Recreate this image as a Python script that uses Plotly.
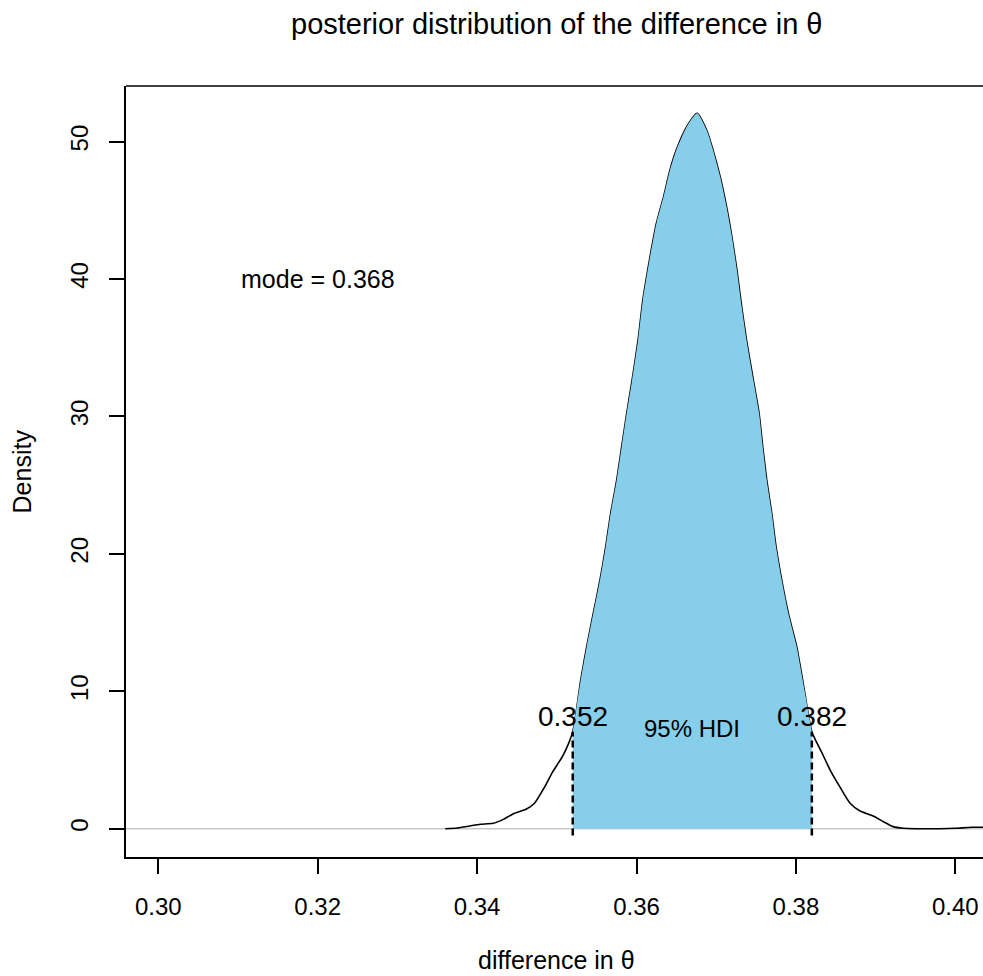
import plotly.graph_objects as go

# Posterior density of the difference in theta (read from the density estimate)
theta_diff = [
    0.3360, 0.3375, 0.3391, 0.3404, 0.3420, 0.3433, 0.3445, 0.3462, 0.3472,
    0.3485, 0.3495, 0.3508, 0.3520, 0.3530, 0.35375, 0.35458, 0.35542, 0.35614,
    0.35676, 0.35752, 0.35814, 0.35877, 0.35945, 0.3602, 0.3608, 0.3617, 0.3625,
    0.3634, 0.3642, 0.3650, 0.3663, 0.3676, 0.3688, 0.3696, 0.3705, 0.3713,
    0.3719, 0.3726, 0.3732, 0.3738, 0.37466, 0.37538, 0.37584, 0.37634, 0.37697,
    0.37751, 0.37822, 0.37905, 0.38010, 0.38085, 0.3820,
    0.3832, 0.3843, 0.3855, 0.3868, 0.3880, 0.3897, 0.3910, 0.3922, 0.3935,
    0.3950, 0.3980, 0.4000, 0.4020, 0.4035,
]
density = [
    0.00, 0.05, 0.20, 0.32, 0.39, 0.68, 1.07, 1.43, 1.85,
    3.06, 4.15, 5.36, 7.06, 10.82, 13.25, 15.68, 18.10, 20.52,
    22.95, 25.38, 27.80, 30.23, 32.66, 35.57, 38.48, 41.63, 44.06,
    46.00, 47.94, 49.40, 51.09, 52.07, 50.85, 49.40, 47.45, 45.27,
    43.33, 40.66, 37.99, 35.57, 32.66, 30.23, 27.80, 25.38, 22.95,
    20.52, 18.10, 15.68, 13.25, 10.82, 7.06,
    5.60, 4.27, 3.06, 1.85, 1.31, 0.92, 0.51, 0.15, 0.03,
    0.00, 0.00, 0.03, 0.10, 0.10,
]

# 95% highest density interval and the density height at its ends
hdi_low = 0.352
hdi_high = 0.382
hdi_density = 7.06
mode_value = 0.368

x_ticks = [0.30, 0.32, 0.34, 0.36, 0.38, 0.40]
y_ticks = [0, 10, 20, 30, 40, 50]

FONT = "Liberation Sans, Arial, Helvetica, sans-serif"

fig = go.Figure()

# density curve
fig.add_trace(go.Scatter(
    x=theta_diff, y=density, mode="lines",
    line=dict(color="black", width=1.6, shape="spline", smoothing=0.6),
    hoverinfo="skip", showlegend=False,
))

# shaded HDI region
in_hdi = [hdi_low - 1e-4 <= x <= hdi_high + 1e-4 for x in theta_diff]
hdi_x = [x for x, k in zip(theta_diff, in_hdi) if k]
hdi_y = [d for d, k in zip(density, in_hdi) if k]
fig.add_trace(go.Scatter(
    x=hdi_x, y=hdi_y, mode="lines", fill="tozeroy",
    fillcolor="#87CEEB",
    line=dict(color="rgba(0,0,0,0)", width=0, shape="spline", smoothing=0.6),
    hoverinfo="skip", showlegend=False,
))

shapes = [
    # baseline at zero density
    dict(type="line", xref="paper", yref="y", x0=0, x1=1, y0=0, y1=0,
         line=dict(color="#C8C8C8", width=1.5), layer="below"),
    # top border of the plot box
    dict(type="line", xref="paper", yref="paper", x0=0, x1=1, y0=1, y1=1,
         line=dict(color="black", width=1.5)),
]
for h in (hdi_low, hdi_high):
    shapes.append(dict(type="line", xref="x", yref="y", x0=h, x1=h,
                       y0=-0.5, y1=hdi_density,
                       line=dict(color="black", width=2.5, dash="7px,4px")))

annotations = [
    dict(text="posterior distribution of the difference in θ", xref="paper", yref="paper",
         x=0.5023, y=1.0804, xanchor="center", yanchor="middle", showarrow=False,
         font=dict(size=29, color="black", family=FONT)),
    dict(text="difference in θ", xref="paper", yref="paper",
         x=0.5023, y=-0.1336, xanchor="center", yanchor="middle", showarrow=False,
         font=dict(size=25, color="black", family=FONT)),
    dict(text="Density", xref="paper", yref="paper",
         x=-0.1214, y=0.5, xanchor="center", yanchor="middle", textangle=-90,
         showarrow=False, font=dict(size=25, color="black", family=FONT)),
    dict(text=f"mode = {mode_value:.3f}", xref="x", yref="y", x=0.32, y=40,
         xanchor="center", yanchor="middle", showarrow=False,
         font=dict(size=25, color="black", family=FONT)),
    dict(text=f"{hdi_low:.3f}", xref="x", yref="y", x=hdi_low, y=8.19,
         xanchor="center", yanchor="middle", showarrow=False,
         font=dict(size=28, color="black", family=FONT)),
    dict(text=f"{hdi_high:.3f}", xref="x", yref="y", x=hdi_high, y=8.19,
         xanchor="center", yanchor="middle", showarrow=False,
         font=dict(size=28, color="black", family=FONT)),
    dict(text="95% HDI", xref="x", yref="y", x=(hdi_low + hdi_high) / 2, y=7.3,
         xanchor="center", yanchor="middle", showarrow=False,
         font=dict(size=24, color="black", family=FONT)),
]

fig.update_layout(
    width=983, height=976,
    margin=dict(l=126, r=0, t=86, b=119, pad=0),
    paper_bgcolor="white", plot_bgcolor="white",
    font=dict(family=FONT, size=24, color="black"),
    shapes=shapes, annotations=annotations,
    showlegend=False,
)
fig.update_xaxes(
    range=[0.295947, 0.403476], tickvals=x_ticks,
    ticktext=[f"{v:.2f}" for v in x_ticks],
    ticks="outside", ticklen=15, tickwidth=1.5, tickcolor="black",
    showline=True, linecolor="black", linewidth=1.5,
    showgrid=False, zeroline=False, ticklabelstandoff=12,
    tickfont=dict(size=24, family=FONT, color="black"),
)
fig.update_yaxes(
    range=[-2.06, 54.05], tickvals=y_ticks,
    ticktext=[str(v) for v in y_ticks],
    ticks="outside", ticklen=15, tickwidth=1.5, tickcolor="black",
    showline=True, linecolor="black", linewidth=1.5, tickangle=-90,
    showgrid=False, zeroline=False, ticklabelstandoff=12,
    tickfont=dict(size=24, family=FONT, color="black"),
)

fig.write_html("out.html")
